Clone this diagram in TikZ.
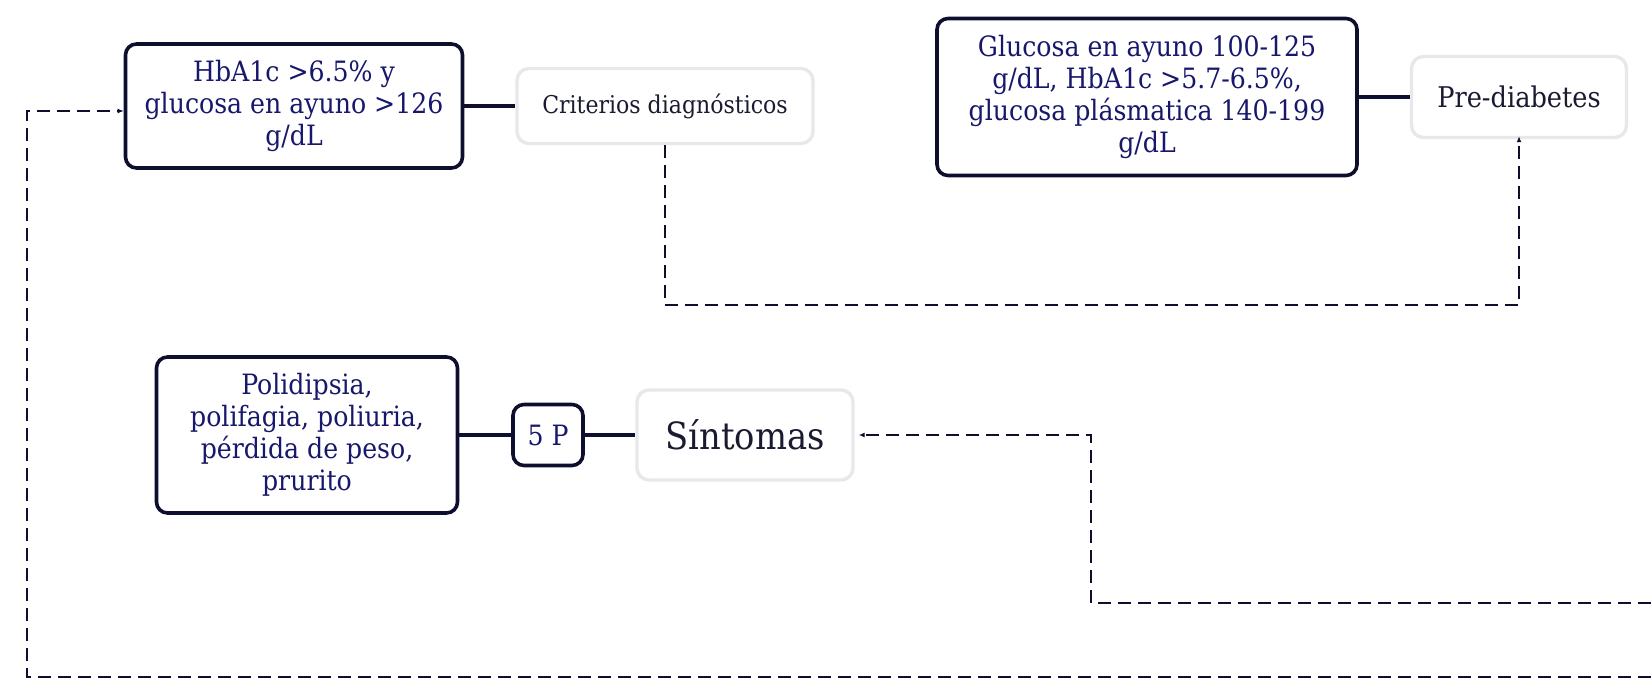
\documentclass[tikz,border=0pt]{standalone}
\usepackage{fontspec}
\setmainfont{DejaVu Serif Condensed}
\usetikzlibrary{arrows.meta}
\definecolor{navy}{HTML}{17176B}
\definecolor{ink}{HTML}{0E0E2E}
\definecolor{pale}{HTML}{E8E8EB}
\definecolor{texto}{HTML}{1A1A30}
\tikzset{>={Latex[length=6pt,width=5pt]}}

\begin{document}
\begin{tikzpicture}[x=1pt, y=-1pt,
	criterio/.style={draw=ink, line width=3.6pt, rounded corners=11pt, text=navy, align=center, font=\fontsize{28}{32}\selectfont, inner sep=0pt},
	etiqueta/.style={draw=pale, line width=3.4pt, rounded corners=12pt, text=texto, align=center, inner sep=0pt},
	enlace/.style={draw=ink, line width=3.6pt},
	retorno/.style={draw=ink, line width=1.8pt, dash pattern=on 13pt off 7pt, ->}]

	\useasboundingbox (0,0) rectangle (1651,682);

	\node[criterio, minimum width=337pt, minimum height=124pt](hba) at (294,106) {HbA1c >6.5\% y\\glucosa en ayuno >126\\g/dL};

	\node[etiqueta, minimum width=296pt, minimum height=75pt, font=\fontsize{24.5}{28}\selectfont](criterios) at (665,106) {Criterios diagnósticos};

	\node[criterio, minimum width=420pt, minimum height=157pt](glucosa) at (1147,97) {Glucosa en ayuno 100-125\\g/dL, HbA1c >5.7-6.5\%,\\glucosa plásmatica 140-199\\g/dL};

	\node[etiqueta, minimum width=215pt, minimum height=81pt, font=\fontsize{28.5}{32}\selectfont](prediabetes) at (1519,97) {Pre-diabetes};

	\node[criterio, minimum width=301pt, minimum height=156pt](polidipsia) at (307,435) {Polidipsia,\\polifagia, poliuria,\\pérdida de peso,\\prurito};

	\node[criterio, minimum width=70pt, minimum height=61pt](cincop) at (548,435) {5 P};

	\node[etiqueta, minimum width=216pt, minimum height=90pt, font=\fontsize{37.5}{42}\selectfont](sintomas) at (745,435) {Síntomas};

	% Puntos de retorno
	\coordinate (codoA) at (1519,305);
	\coordinate (bordeA) at (1651,603);
	\coordinate (codoB) at (1091,603);
	\coordinate (bordeB) at (1651,677);
	\coordinate (codoC) at (27,677);

	% Enlaces
	\draw[enlace] (hba) -- (criterios);
	\draw[enlace] (glucosa) -- (prediabetes);
	\draw[enlace] (polidipsia) -- (cincop);
	\draw[enlace] (cincop) -- (sintomas);

	% Retornos
	\draw[retorno] (criterios.south) |- (codoA) -- ([yshift=3pt]prediabetes.south);
	\draw[retorno] (bordeA) -- (codoB) |- ([xshift=4pt]sintomas.east);
	\draw[retorno] (bordeB) -- (codoC) |- ([yshift=-5pt]hba.west);

\end{tikzpicture}
\end{document}
